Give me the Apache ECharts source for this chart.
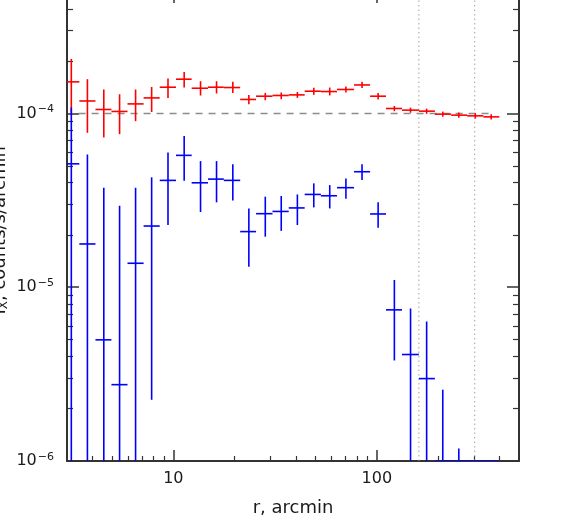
<!DOCTYPE html>
<html><head><meta charset="utf-8">
<script src="https://cdn.jsdelivr.net/npm/echarts@6/dist/echarts.min.js"></script>
<style>html,body{margin:0;padding:0;background:#fff}#c{width:568px;height:524px}</style>
</head><body><div id="c"></div>
<script>
// ---- data ----
const binEdges = [2.88,3.45,4.14,4.96,5.95,7.14,8.57,10.3,12.3,14.8,17.7,21.3,25.5,30.7,36.9,44.2,53.1,63.7,77.3,92.7,111,133,161,193,232,278,334,400];
const radius = [3.15,3.78,4.55,5.44,6.52,7.82,9.41,11.3,13.6,16.3,19.6,23.5,28.3,33.9,40.7,49.0,58.7,70.5,84.6,101.5,122,146.5,175.8,211,253,305,365];

const totalI  = [1.52e-4,1.18e-4,1.054e-4,1.027e-4,1.135e-4,1.229e-4,1.416e-4,1.575e-4,1.397e-4,1.416e-4,1.41e-4,1.204e-4,1.257e-4,1.269e-4,1.279e-4,1.343e-4,1.337e-4,1.374e-4,1.459e-4,1.257e-4,1.068e-4,1.045e-4,1.031e-4,0.991e-4,0.978e-4,0.969e-4,0.956e-4];
const totalLo = [0.98e-4,0.774e-4,0.728e-4,0.76e-4,0.903e-4,1.02e-4,1.229e-4,1.41e-4,1.268e-4,1.303e-4,1.313e-4,1.131e-4,1.192e-4,1.208e-4,1.229e-4,1.28e-4,1.27e-4,1.32e-4,1.40e-4,1.205e-4,1.03e-4,1.01e-4,0.995e-4,0.957e-4,0.944e-4,0.935e-4,0.922e-4];
const totalHi = [2.06e-4,1.575e-4,1.374e-4,1.29e-4,1.374e-4,1.42e-4,1.589e-4,1.734e-4,1.533e-4,1.533e-4,1.52e-4,1.279e-4,1.313e-4,1.32e-4,1.33e-4,1.406e-4,1.41e-4,1.43e-4,1.52e-4,1.31e-4,1.105e-4,1.08e-4,1.066e-4,1.025e-4,1.012e-4,1.003e-4,0.99e-4];

const netI  = [5.13e-5,1.774e-5,4.98e-6,2.75e-6,1.374e-5,2.25e-5,4.12e-5,5.74e-5,3.99e-5,4.19e-5,4.12e-5,2.09e-5,2.65e-5,2.73e-5,2.86e-5,3.42e-5,3.36e-5,3.74e-5,4.62e-5,2.64e-5,7.41e-6,4.1e-6,2.98e-6,1e-6,1e-6,1e-6,1e-6];
const netLo = [1e-8,1e-8,1e-8,1e-8,1e-8,2.25e-6,2.28e-5,4.1e-5,2.71e-5,3.08e-5,3.16e-5,1.313e-5,1.954e-5,2.11e-5,2.28e-5,2.88e-5,2.84e-5,3.23e-5,4.14e-5,2.2e-5,3.79e-6,1e-8,1e-8,1e-8,1e-8,1e-8,1e-8];
const netHi = [1.083e-4,5.81e-5,3.74e-5,2.94e-5,3.74e-5,4.29e-5,5.97e-5,7.41e-5,5.32e-5,5.32e-5,5.11e-5,2.84e-5,3.32e-5,3.35e-5,3.42e-5,3.96e-5,3.87e-5,4.23e-5,5.11e-5,3.08e-5,1.101e-5,7.54e-6,6.34e-6,2.57e-6,1.18e-6,1e-6,1e-6];

const refLevel = 1e-4;
const refLineX = [3.42, 372];
const markerX = [161, 303];

const xRange = [3, 500];
const yRange = [1e-6, 5e-4];
const xMajorTicks = [10, 100];
const xMajorLabels = ['10', '100'];
const xMinorTicks = [4,5,6,7,8,9,20,30,40,50,60,70,80,90,200,300,400];
const yMajorTicks = [1e-6, 1e-5, 1e-4];
const yMajorExp = ['\u22126', '\u22125', '\u22124'];
const yMinorTicks = [2e-6,3e-6,4e-6,5e-6,6e-6,7e-6,8e-6,9e-6,2e-5,3e-5,4e-5,5e-5,6e-5,7e-5,8e-5,9e-5,2e-4,3e-4,4e-4];

// ---- chart ----
const FONT = 'DejaVu Sans';
const INK = '#333';
const TXT = '#1a1a1a';

function axisBase(range, extra) {
  return Object.assign({
    type: 'log', logBase: 10, min: range[0], max: range[1],
    splitLine: { show: false },
    axisLine: { show: false, onZero: false },
    axisLabel: { show: false },
    axisTick: { show: false }
  }, extra);
}
function majorTick(vals, len) {
  return { show: true, inside: true, length: len, customValues: vals, lineStyle: { color: INK, width: 1.5 } };
}
function minorTick(vals, len) {
  return { show: true, inside: true, length: len, customValues: vals, lineStyle: { color: INK, width: 1.2 } };
}
const frameLine = { show: true, onZero: false, lineStyle: { color: INK, width: 2 } };

function findIdx(arr, v) {
  let best = 0;
  for (let i = 0; i < arr.length; i++) if (Math.abs(arr[i] - v) / arr[i] < Math.abs(arr[best] - v) / arr[best]) best = i;
  return best;
}

function errRender(color) {
  return function (params, api) {
    const x = api.value(0), y = api.value(1);
    const c = api.coord([x, y]);
    const l = api.coord([api.value(2), y]);
    const r = api.coord([api.value(3), y]);
    const b = api.coord([x, api.value(4)]);
    const t = api.coord([x, api.value(5)]);
    const style = { stroke: color, lineWidth: 1.6 };
    return { type: 'group', children: [
      { type: 'line', shape: { x1: l[0], y1: c[1], x2: r[0], y2: c[1] }, style: style },
      { type: 'line', shape: { x1: c[0], y1: t[1], x2: c[0], y2: b[1] }, style: style }
    ]};
  };
}

const totalData = radius.map((x, i) => [x, totalI[i], binEdges[i], binEdges[i + 1], totalLo[i], totalHi[i]]);
const netData = radius.map((x, i) => [x, netI[i], binEdges[i], binEdges[i + 1], netLo[i], netHi[i]]);

const chart = echarts.init(document.getElementById('c'), null, { renderer: 'canvas' });
chart.setOption({
  animation: false,
  backgroundColor: '#fff',
  textStyle: { fontFamily: FONT },
  grid: { left: 67, right: 49, top: -8, bottom: 63, containLabel: false, outerBoundsMode: 'none' },
  xAxis: [
    axisBase(xRange, {
      position: 'bottom', axisLine: frameLine, axisTick: majorTick(xMajorTicks, 11),
      axisLabel: { show: true, customValues: xMajorTicks, margin: 10, fontSize: 16, color: TXT, fontFamily: FONT,
        formatter: v => xMajorLabels[findIdx(xMajorTicks, v)] },
      name: 'r, arcmin', nameLocation: 'middle', nameGap: 38, nameMoveOverlap: false,
      nameTextStyle: { fontSize: 18, color: TXT, fontFamily: FONT }
    }),
    axisBase(xRange, { position: 'bottom', axisTick: minorTick(xMinorTicks, 5) }),
    axisBase(xRange, { position: 'top', axisLine: frameLine, axisTick: majorTick(xMajorTicks, 11) }),
    axisBase(xRange, { position: 'top', axisTick: minorTick(xMinorTicks, 5) })
  ],
  yAxis: [
    axisBase(yRange, {
      position: 'left', axisLine: frameLine, axisTick: majorTick(yMajorTicks, 12),
      axisLabel: { show: true, customValues: yMajorTicks, margin: 13, color: TXT, fontFamily: FONT,
        formatter: v => '{b|10}{s|' + yMajorExp[findIdx(yMajorTicks, v)] + '}',
        rich: {
          b: { fontSize: 16, lineHeight: 22, fontFamily: FONT, color: TXT },
          s: { fontSize: 11, lineHeight: 11, padding: [0, 0, 8, 1], fontFamily: FONT, color: TXT }
        } },
      name: '{n|I}{sub|X}{n|, counts/s/arcmin}{sup|2}', nameLocation: 'middle', nameGap: 56, nameMoveOverlap: false,
      nameTextStyle: { color: TXT, fontFamily: FONT,
        rich: {
          n: { fontSize: 18, lineHeight: 22, fontFamily: FONT, color: TXT },
          sub: { fontSize: 12, lineHeight: 12, padding: [8, 0, 0, 0], fontFamily: FONT, color: TXT },
          sup: { fontSize: 12, lineHeight: 12, padding: [0, 0, 8, 0], fontFamily: FONT, color: TXT }
        } }
    }),
    axisBase(yRange, { position: 'left', axisTick: minorTick(yMinorTicks, 6) }),
    axisBase(yRange, { position: 'right', axisLine: frameLine, axisTick: majorTick(yMajorTicks, 12) }),
    axisBase(yRange, { position: 'right', axisTick: minorTick(yMinorTicks, 6) })
  ],
  series: [
    { type: 'line', xAxisIndex: 0, yAxisIndex: 0, silent: true, symbol: 'none', z: 1,
      data: refLineX.map(x => [x, refLevel]),
      lineStyle: { color: '#8c8c8c', width: 1.5, type: [7, 6] } },
    { type: 'line', xAxisIndex: 0, yAxisIndex: 0, silent: true, symbol: 'none', z: 1,
      data: [[markerX[0], yRange[0]], [markerX[0], yRange[1]]],
      lineStyle: { color: '#a0a0a0', width: 1, type: [1.5, 3] } },
    { type: 'line', xAxisIndex: 0, yAxisIndex: 0, silent: true, symbol: 'none', z: 1,
      data: [[markerX[1], yRange[0]], [markerX[1], yRange[1]]],
      lineStyle: { color: '#a0a0a0', width: 1, type: [1.5, 3] } },
    { type: 'custom', xAxisIndex: 0, yAxisIndex: 0, clip: true, z: 3,
      renderItem: errRender('#ff0000'), encode: { x: 0, y: 1 }, data: totalData },
    { type: 'custom', xAxisIndex: 0, yAxisIndex: 0, clip: true, z: 3,
      renderItem: errRender('#0000ff'), encode: { x: 0, y: 1 }, data: netData }
  ]
});
</script>
</body></html>
